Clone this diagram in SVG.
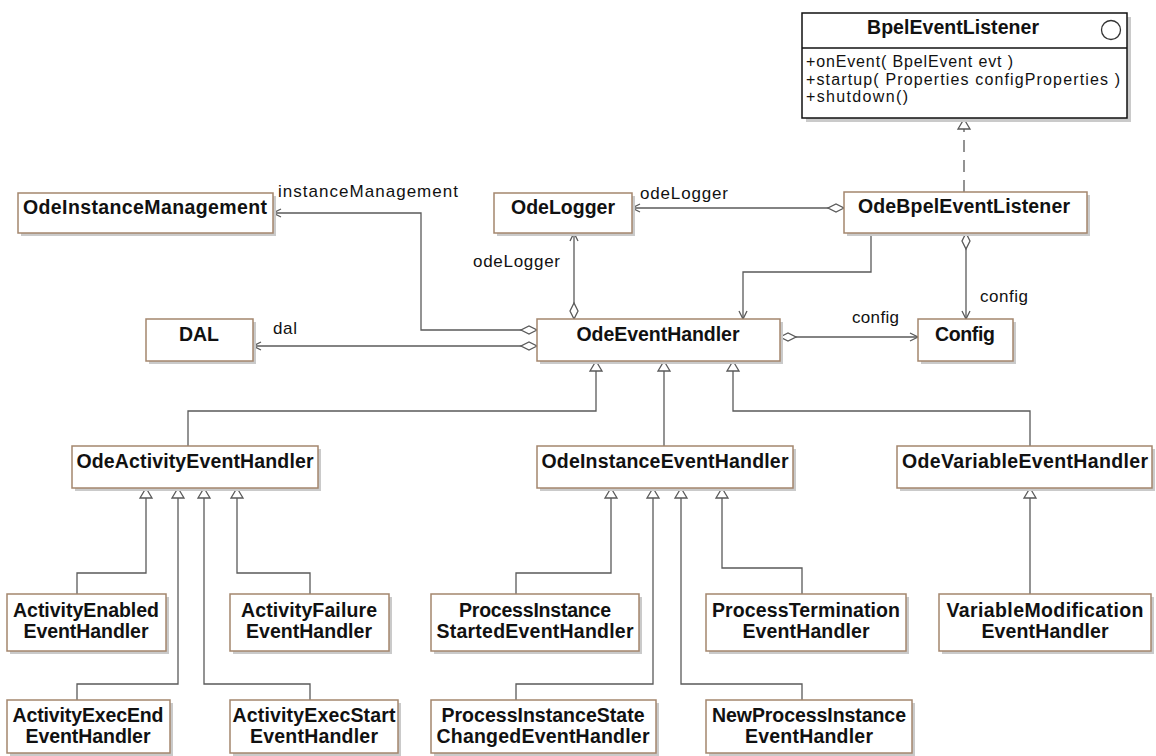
<svg xmlns="http://www.w3.org/2000/svg" width="1156" height="756" viewBox="0 0 1156 756">
<style>
.bg{fill:#ffffff}
.sh{fill:#cacaca}
.box{fill:#ffffff;stroke:#a4866d;stroke-width:1.5}
.ibox{fill:#ffffff;stroke:#111111;stroke-width:1.5}
.t{font-family:"Liberation Sans",Arial,sans-serif;font-weight:bold;font-size:19.5px;fill:#111111;text-anchor:middle}
.m{font-family:"Liberation Sans",Arial,sans-serif;font-size:16px;fill:#111111}
.l{font-family:"Liberation Sans",Arial,sans-serif;font-size:17px;fill:#111111}
.c{fill:none;stroke:#5a5a5a;stroke-width:1.3}
.d{stroke-dasharray:12 8}
.as{marker-start:url(#dia)}
.ae{marker-end:url(#arr)}
.ge{marker-end:url(#tri)}
</style>
<defs>
<marker id="arr" markerUnits="userSpaceOnUse" markerWidth="10" markerHeight="10" refX="8" refY="4" orient="auto" overflow="visible"><path d="M0,0 L8,4 L0,8" fill="none" stroke="#5a5a5a" stroke-width="1.3"/></marker>
<marker id="dia" markerUnits="userSpaceOnUse" markerWidth="18" markerHeight="10" refX="0" refY="4" orient="auto" overflow="visible"><path d="M0,4 L8,0 L16,4 L8,8 z" fill="#ffffff" stroke="#5a5a5a" stroke-width="1.3"/></marker>
<marker id="tri" markerUnits="userSpaceOnUse" markerWidth="12" markerHeight="14" refX="10" refY="6" orient="auto" overflow="visible"><path d="M0,0 L10,6 L0,12 z" fill="#ffffff" stroke="#5a5a5a" stroke-width="1.3"/></marker>
</defs>
<rect class="bg" x="0" y="0" width="1156" height="756"/>

<g id="connectors">
<path class="c d ge" d="M964,192 L964,119"/>
<path class="c as ae" d="M844,208 L632,208"/>
<path class="c ae" d="M871,233 L871,272 L743,272 L743,319"/>
<path class="c as ae" d="M966,233 L966,319"/>
<path class="c as ae" d="M574,319 L574,233"/>
<path class="c as ae" d="M537,330 L421,330 L421,213 L273,213"/>
<path class="c as ae" d="M537,346 L253,346"/>
<path class="c as ae" d="M780,337 L918,337"/>
<path class="c ge" d="M188,446 L188,411 L596,411 L596,361"/>
<path class="c ge" d="M664,446 L664,361"/>
<path class="c ge" d="M1030,446 L1030,411 L733,411 L733,361"/>
<path class="c ge" d="M77,594 L77,573 L146,573 L146,488"/>
<path class="c ge" d="M310,594 L310,573 L237,573 L237,488"/>
<path class="c ge" d="M77,700 L77,684 L178,684 L178,488"/>
<path class="c ge" d="M310,700 L310,684 L204,684 L204,488"/>
<path class="c ge" d="M516,594 L516,573 L611,573 L611,488"/>
<path class="c ge" d="M802,594 L802,568 L722,568 L722,488"/>
<path class="c ge" d="M516,700 L516,684 L653,684 L653,488"/>
<path class="c ge" d="M802,700 L802,684 L681,684 L681,488"/>
<path class="c ge" d="M1030,594 L1030,488"/>
<text class="l" x="278" y="197" textLength="180" lengthAdjust="spacing">instanceManagement</text>
<text class="l" x="640" y="199" textLength="88" lengthAdjust="spacing">odeLogger</text>
<text class="l" x="473" y="267" textLength="87" lengthAdjust="spacing">odeLogger</text>
<text class="l" x="273" y="334" textLength="24" lengthAdjust="spacing">dal</text>
<text class="l" x="852" y="323" textLength="47" lengthAdjust="spacing">config</text>
<text class="l" x="980" y="302" textLength="48" lengthAdjust="spacing">config</text>
</g>

<g id="BpelEventListener">
<rect class="sh" x="806" y="17" width="325" height="105"/>
<rect class="ibox" x="802" y="13" width="325" height="105"/>
<line x1="802" y1="48" x2="1127" y2="48" stroke="#111111" stroke-width="1.3"/>
<circle cx="1111" cy="30" r="9.5" fill="#ffffff" stroke="#333333" stroke-width="1.3"/>
<text class="t" x="953" y="34" textLength="172" lengthAdjust="spacing">BpelEventListener</text>
<text class="m" x="806" y="67" textLength="207" lengthAdjust="spacing">+onEvent( BpelEvent evt )</text>
<text class="m" x="806" y="85" textLength="314" lengthAdjust="spacing">+startup( Properties configProperties )</text>
<text class="m" x="806" y="102" textLength="102" lengthAdjust="spacing">+shutdown()</text>
</g>

<g id="OdeInstanceManagement">
<rect class="sh" x="21" y="196" width="255" height="40"/>
<rect class="box" x="18" y="193" width="255" height="40"/>
<text class="t" x="145" y="214" textLength="244" lengthAdjust="spacing">OdeInstanceManagement</text>
</g>
<g id="OdeLogger">
<rect class="sh" x="497" y="196" width="138" height="40"/>
<rect class="box" x="494" y="193" width="138" height="40"/>
<text class="t" x="563" y="214" textLength="104" lengthAdjust="spacing">OdeLogger</text>
</g>
<g id="OdeBpelEventListener">
<rect class="sh" x="847" y="195" width="243" height="41"/>
<rect class="box" x="844" y="192" width="243" height="41"/>
<text class="t" x="964" y="213" textLength="212" lengthAdjust="spacing">OdeBpelEventListener</text>
</g>

<g id="DAL">
<rect class="sh" x="149" y="322" width="107" height="42"/>
<rect class="box" x="146" y="319" width="107" height="42"/>
<text class="t" x="199" y="341">DAL</text>
</g>
<g id="OdeEventHandler">
<rect class="sh" x="540" y="322" width="243" height="42"/>
<rect class="box" x="537" y="319" width="243" height="42"/>
<text class="t" x="658" y="341" textLength="163" lengthAdjust="spacing">OdeEventHandler</text>
</g>
<g id="Config">
<rect class="sh" x="921" y="322" width="95" height="42"/>
<rect class="box" x="918" y="319" width="95" height="42"/>
<text class="t" x="965" y="341" textLength="60" lengthAdjust="spacing">Config</text>
</g>

<g id="OdeActivityEventHandler">
<rect class="sh" x="75" y="449" width="246" height="42"/>
<rect class="box" x="72" y="446" width="246" height="42"/>
<text class="t" x="195" y="468" textLength="237" lengthAdjust="spacing">OdeActivityEventHandler</text>
</g>
<g id="OdeInstanceEventHandler">
<rect class="sh" x="540" y="449" width="256" height="42"/>
<rect class="box" x="537" y="446" width="256" height="42"/>
<text class="t" x="665" y="468" textLength="247" lengthAdjust="spacing">OdeInstanceEventHandler</text>
</g>
<g id="OdeVariableEventHandler">
<rect class="sh" x="900" y="449" width="255" height="42"/>
<rect class="box" x="897" y="446" width="255" height="42"/>
<text class="t" x="1025" y="468" textLength="246" lengthAdjust="spacing">OdeVariableEventHandler</text>
</g>

<g id="ActivityEnabledEventHandler">
<rect class="sh" x="10" y="597" width="159" height="57"/>
<rect class="box" x="7" y="594" width="159" height="57"/>
<text class="t" x="86" y="617" textLength="146" lengthAdjust="spacing">ActivityEnabled</text>
<text class="t" x="86" y="638" textLength="125" lengthAdjust="spacing">EventHandler</text>
</g>
<g id="ActivityFailureEventHandler">
<rect class="sh" x="233" y="597" width="159" height="57"/>
<rect class="box" x="230" y="594" width="159" height="57"/>
<text class="t" x="309" y="617" textLength="136" lengthAdjust="spacing">ActivityFailure</text>
<text class="t" x="309" y="638" textLength="126" lengthAdjust="spacing">EventHandler</text>
</g>
<g id="ProcessInstanceStartedEventHandler">
<rect class="sh" x="434" y="597" width="208" height="57"/>
<rect class="box" x="431" y="594" width="208" height="57"/>
<text class="t" x="535" y="617" textLength="152" lengthAdjust="spacing">ProcessInstance</text>
<text class="t" x="535" y="638" textLength="197" lengthAdjust="spacing">StartedEventHandler</text>
</g>
<g id="ProcessTerminationEventHandler">
<rect class="sh" x="709" y="597" width="200" height="57"/>
<rect class="box" x="706" y="594" width="200" height="57"/>
<text class="t" x="806" y="617" textLength="188" lengthAdjust="spacing">ProcessTermination</text>
<text class="t" x="806" y="638" textLength="127" lengthAdjust="spacing">EventHandler</text>
</g>
<g id="VariableModificationEventHandler">
<rect class="sh" x="942" y="597" width="212" height="57"/>
<rect class="box" x="939" y="594" width="212" height="57"/>
<text class="t" x="1045" y="617" textLength="197" lengthAdjust="spacing">VariableModification</text>
<text class="t" x="1045" y="638" textLength="127" lengthAdjust="spacing">EventHandler</text>
</g>

<g id="ActivityExecEndEventHandler">
<rect class="sh" x="10" y="703" width="163" height="53"/>
<rect class="box" x="7" y="700" width="163" height="53"/>
<text class="t" x="88" y="722" textLength="151" lengthAdjust="spacing">ActivityExecEnd</text>
<text class="t" x="88" y="743" textLength="125" lengthAdjust="spacing">EventHandler</text>
</g>
<g id="ActivityExecStartEventHandler">
<rect class="sh" x="233" y="703" width="168" height="53"/>
<rect class="box" x="230" y="700" width="168" height="53"/>
<text class="t" x="314" y="722" textLength="163" lengthAdjust="spacing">ActivityExecStart</text>
<text class="t" x="314" y="743" textLength="128" lengthAdjust="spacing">EventHandler</text>
</g>
<g id="ProcessInstanceStateChangedEventHandler">
<rect class="sh" x="434" y="703" width="225" height="53"/>
<rect class="box" x="431" y="700" width="225" height="53"/>
<text class="t" x="543" y="722" textLength="203" lengthAdjust="spacing">ProcessInstanceState</text>
<text class="t" x="543" y="743" textLength="213" lengthAdjust="spacing">ChangedEventHandler</text>
</g>
<g id="NewProcessInstanceEventHandler">
<rect class="sh" x="709" y="703" width="206" height="53"/>
<rect class="box" x="706" y="700" width="206" height="53"/>
<text class="t" x="809" y="722" textLength="194" lengthAdjust="spacing">NewProcessInstance</text>
<text class="t" x="809" y="743" textLength="128" lengthAdjust="spacing">EventHandler</text>
</g>
</svg>
